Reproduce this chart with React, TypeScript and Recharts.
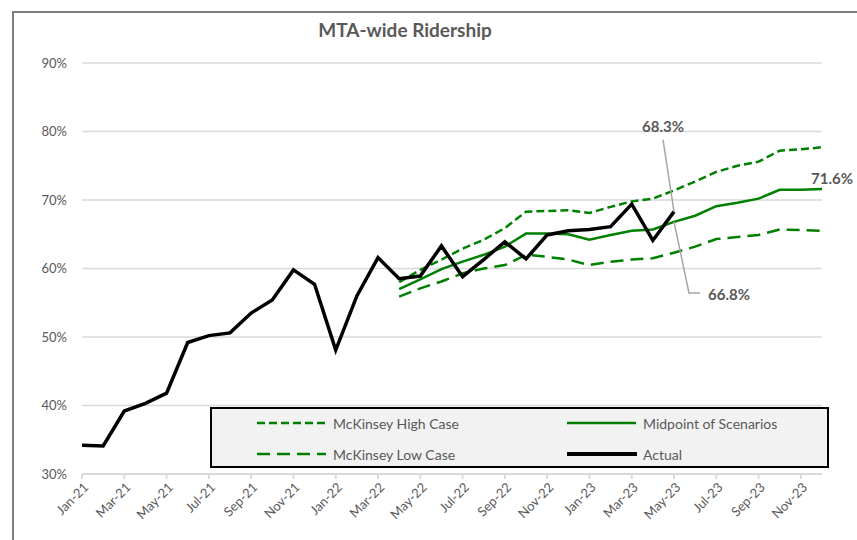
import React from 'react';
import { LineChart, Line, XAxis, YAxis, CartesianGrid } from 'recharts';

const months = [
  'Jan-21', 'Feb-21', 'Mar-21', 'Apr-21', 'May-21', 'Jun-21', 'Jul-21', 'Aug-21', 'Sep-21', 'Oct-21', 'Nov-21', 'Dec-21',
  'Jan-22', 'Feb-22', 'Mar-22', 'Apr-22', 'May-22', 'Jun-22', 'Jul-22', 'Aug-22', 'Sep-22', 'Oct-22', 'Nov-22', 'Dec-22',
  'Jan-23', 'Feb-23', 'Mar-23', 'Apr-23', 'May-23', 'Jun-23', 'Jul-23', 'Aug-23', 'Sep-23', 'Oct-23', 'Nov-23', 'Dec-23',
];

// Jan-21 .. May-23
const actual = [
  34.2, 34.1, 39.2, 40.3, 41.8, 49.2, 50.2, 50.6, 53.5, 55.4, 59.8, 57.7,
  48.1, 56.0, 61.6, 58.5, 58.9, 63.3, 58.8, 61.3, 63.9, 61.4, 64.9, 65.5,
  65.7, 66.1, 69.4, 64.1, 68.3,
];

// scenarios run Apr-22 .. Dec-23
const scenarioStart = 'Apr-22';
const highCase = [
  58.0, 59.8, 61.3, 62.9, 64.2, 65.9, 68.3, 68.4, 68.5, 68.1, 69.0, 69.8,
  70.2, 71.4, 72.7, 74.1, 75.0, 75.6, 77.2, 77.4, 77.7,
];
const lowCase = [
  55.9, 57.1, 58.1, 59.3, 60.0, 60.5, 62.0, 61.7, 61.3, 60.5, 61.0, 61.3,
  61.5, 62.3, 63.2, 64.3, 64.6, 64.9, 65.7, 65.6, 65.5,
];
const midpoint = [
  57.0, 58.4, 59.9, 61.0, 62.0, 63.2, 65.1, 65.1, 65.0, 64.2, 64.9, 65.5,
  65.7, 66.8, 67.7, 69.1, 69.6, 70.2, 71.5, 71.5, 71.6,
];

const yTicks = [30, 40, 50, 60, 70, 80, 90];

const GREEN = '#008000';
const TEXT = '#595959';
const FONT = 'Lato, "Open Sans", sans-serif';

const s0 = months.indexOf(scenarioStart);
const data = months.map((month, i) => ({
  month,
  actual: i < actual.length ? actual[i] : null,
  high: i >= s0 ? highCase[i - s0] : null,
  low: i >= s0 ? lowCase[i - s0] : null,
  mid: i >= s0 ? midpoint[i - s0] : null,
}));

const legendItems = [
  { name: 'McKinsey High Case', color: GREEN, dash: '8 4', width: 2.5 },
  { name: 'Midpoint of Scenarios', color: GREEN, dash: undefined, width: 2.5 },
  { name: 'McKinsey Low Case', color: GREEN, dash: '13 7', width: 2.5 },
  { name: 'Actual', color: '#000', dash: undefined, width: 4 },
];

function MonthTick({ x, y, payload }: any) {
  return (
    <g transform={`translate(${x + 4},${y + 4}) rotate(-45)`}>
      <text x={0} y={0} dy="0.35em" textAnchor="end" fill={TEXT} fontSize={13} fontFamily={FONT}>
        {payload.value}
      </text>
    </g>
  );
}

const pct = (v: number) => `${v.toFixed(1)}%`;
const lastActual = actual.length - 1;
const lastMonth = months.length - 1;

// label above the last actual point, with a leader line down to it
const actualLabel = (props: any) => {
  const { x, y, value, index } = props;
  if (index !== lastActual || x == null) return <g key={`al-${index}`} />;
  return (
    <g key="al-last">
      <line x1={x - 11} y1={y - 72} x2={x} y2={y} stroke="#a6a6a6" strokeWidth={1.5} />
      <text x={x - 11} y={y - 86} textAnchor="middle" dominantBaseline="central" fill={TEXT}
        fontSize={15} fontWeight={700} fontFamily={FONT}>{pct(value)}</text>
    </g>
  );
};

const midLabel = (props: any) => {
  const { x, y, value, index } = props;
  if (x == null) return <g key={`ml-${index}`} />;
  if (index === lastActual) {
    return (
      <g key="ml-now">
        <polyline points={`${x},${y} ${x + 15},${y + 71} ${x + 26},${y + 71}`} fill="none"
          stroke="#a6a6a6" strokeWidth={1.5} />
        <text x={x + 34} y={y + 72} textAnchor="start" dominantBaseline="central" fill={TEXT}
          fontSize={15} fontWeight={700} fontFamily={FONT}>{pct(value)}</text>
      </g>
    );
  }
  if (index === lastMonth) {
    return (
      <text key="ml-end" x={x + 10} y={y - 11} textAnchor="middle" dominantBaseline="central" fill={TEXT}
        fontSize={15} fontWeight={700} fontFamily={FONT}>{pct(value)}</text>
    );
  }
  return <g key={`ml-${index}`} />;
};

export default function App() {
  return (
    <div style={{ position: 'absolute', left: 0, top: 0, width: 857, height: 540, background: '#fff', overflow: 'hidden', fontFamily: FONT }}>
      {/* chart frame */}
      <div style={{ position: 'absolute', left: 12, top: 11, right: -10, bottom: -10, borderLeft: '2px solid #7f7f7f', borderTop: '2px solid #7f7f7f' }} />

      <div style={{ position: 'absolute', left: 0, width: 810, top: 18, textAlign: 'center', fontSize: 19, fontWeight: 700, color: TEXT }}>
        MTA-wide Ridership
      </div>

      <div style={{ position: 'absolute', left: 0, top: 0 }}>
        <LineChart width={857} height={540} data={data} margin={{ top: 63, right: 35, bottom: 16, left: 0 }}>
          <CartesianGrid vertical={false} stroke="#d9d9d9" strokeWidth={1.5} />
          <XAxis dataKey="month" interval={1} height={50} tick={<MonthTick />}
            axisLine={{ stroke: '#d9d9d9', strokeWidth: 2 }} tickLine={{ stroke: '#d9d9d9', strokeWidth: 2 }} tickSize={5} />
          <YAxis width={82} domain={[30, 90]} ticks={yTicks} tickFormatter={(v) => `${v}%`}
            axisLine={false} tickLine={false} tickSize={0} tickMargin={15}
            tick={{ fill: TEXT, fontSize: 13, fontFamily: FONT }} />
          <Line dataKey="high" stroke={GREEN} strokeWidth={2.5} strokeDasharray="8 4" dot={false} activeDot={false} isAnimationActive={false} />
          <Line dataKey="low" stroke={GREEN} strokeWidth={2.5} strokeDasharray="13 7" dot={false} activeDot={false} isAnimationActive={false} />
          <Line dataKey="mid" stroke={GREEN} strokeWidth={2.5} dot={false} activeDot={false} isAnimationActive={false} label={midLabel} />
          <Line dataKey="actual" stroke="#000" strokeWidth={3.5} dot={false} activeDot={false} isAnimationActive={false} label={actualLabel} />
        </LineChart>
      </div>

      {/* legend */}
      <div style={{ position: 'absolute', left: 210, top: 407, width: 619, height: 61, boxSizing: 'border-box', background: '#f2f2f2', border: '2px solid #000' }}>
        {legendItems.map((item, i) => {
          const col = i % 2;
          const row = Math.floor(i / 2);
          return (
            <div key={item.name} style={{ position: 'absolute', left: col ? 355 : 45, top: row ? 34 : 3, height: 22, display: 'flex', alignItems: 'center' }}>
              <svg width={70} height={10}>
                <line x1={0} y1={5} x2={69} y2={5} stroke={item.color} strokeWidth={item.width} strokeDasharray={item.dash} strokeLinecap={item.color === '#000' ? 'round' : 'butt'} />
              </svg>
              <span style={{ marginLeft: 6, fontSize: 14, color: TEXT }}>{item.name}</span>
            </div>
          );
        })}
      </div>
    </div>
  );
}
